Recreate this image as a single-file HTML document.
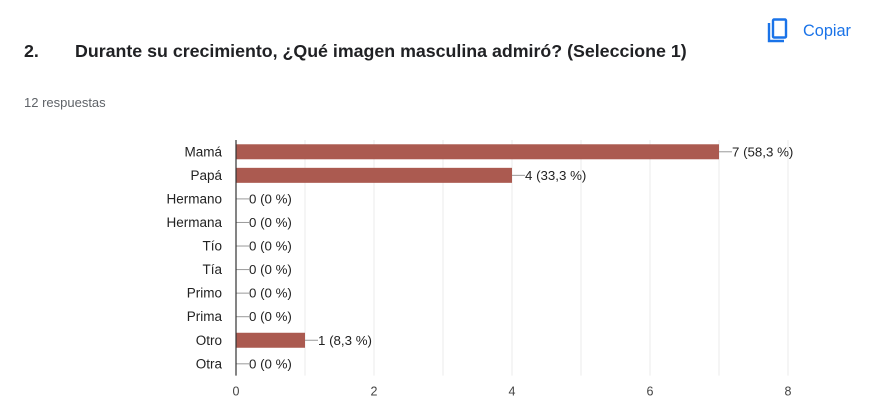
<!DOCTYPE html>
<html><head><meta charset="utf-8"><style>
body{margin:0;background:#fff;width:887px;height:420px;overflow:hidden;font-family:"Liberation Sans",sans-serif;}
.t{position:absolute;}
</style></head><body>
<div class="t" style="left:24px;top:41px;font-size:17.8px;font-weight:bold;color:#202124">2.</div>
<div class="t" style="left:75px;top:41px;font-size:17.8px;font-weight:bold;color:#202124">Durante su crecimiento, ¿Qué imagen masculina admiró? (Seleccione 1)</div>
<div class="t" style="left:767px;top:18px;height:26px;display:flex;align-items:center;color:#1a73e8;font-size:16.3px">
<svg width="24" height="26" viewBox="0 0 24 26" style="margin-right:12px"><path d="M2 5v18h15" fill="none" stroke="#1a73e8" stroke-width="2.4"/><rect x="6" y="1.5" width="13" height="18" fill="none" stroke="#1a73e8" stroke-width="2.4" rx="1"/></svg>Copiar</div>
<div class="t" style="left:24px;top:95px;font-size:13px;color:#5f6368">12 respuestas</div>
<svg id="chart" width="887" height="420" style="position:absolute;left:0;top:0"></svg>
<script>
const categories=["Mamá","Papá","Hermano","Hermana","Tío","Tía","Primo","Prima","Otro","Otra"];
const values=[7,4,0,0,0,0,0,0,1,0];
const labels=["7 (58,3 %)","4 (33,3 %)","0 (0 %)","0 (0 %)","0 (0 %)","0 (0 %)","0 (0 %)","0 (0 %)","1 (8,3 %)","0 (0 %)"];
const ticks=[0,2,4,6,8];
(function(){
const svg=document.getElementById('chart');const NS="http://www.w3.org/2000/svg";
const x0=236,x1=788,xmax=8,plotTop=140,band=23.56;
const xs=v=>x0+v/xmax*(x1-x0);
const yc=i=>plotTop+band*(i+0.5);
const bottom=plotTop+band*categories.length;
function mk(t,a,txt){const e=document.createElementNS(NS,t);for(const k in a)e.setAttribute(k,a[k]);if(txt!=null)e.textContent=txt;svg.appendChild(e);return e;}
for(let v=1;v<=xmax;v++){const g=mk('line',{x1:xs(v),x2:xs(v),y1:plotTop,y2:bottom,stroke:'#ebebeb'});

}
ticks.forEach(v=>{const t=mk('text',{x:xs(v),y:bottom+20,'text-anchor':'middle','font-size':'12.5',fill:'#444'},v);

});
categories.forEach((c,i)=>{
const y=yc(i);
const l=mk('text',{x:x0-14,y:y+4.5,'text-anchor':'end','font-size':'13.5',fill:'#222'},c);


const w=xs(values[i])-x0;
if(w>0){const b=mk('rect',{x:x0,y:y-7.5,width:w,height:15,fill:'#ab5a50'});

}
const xe=xs(values[i]);
mk('line',{x1:xe,x2:xe+13,y1:y,y2:y,stroke:'#999'});
const vl=mk('text',{x:xe+13,y:y+4.5,'font-size':'13.3',fill:'#222'},labels[i]);


});
const ax=mk('line',{x1:x0,x2:x0,y1:plotTop,y2:bottom,stroke:'#333','stroke-width':1.2});


})();
</script>
</body></html>
